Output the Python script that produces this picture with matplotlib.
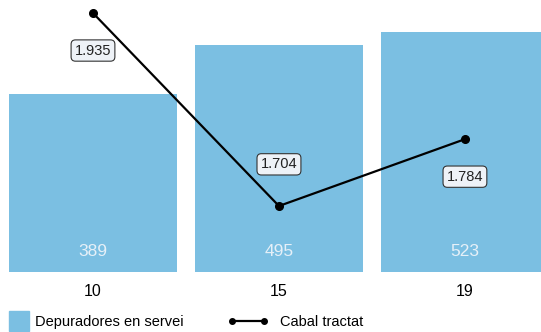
import matplotlib.pyplot as plt
from matplotlib.lines import Line2D
from matplotlib.legend_handler import HandlerLine2D
import numpy as np

plt.rcParams['font.family'] = ['Liberation Sans', 'DejaVu Sans']

years = ['10', '15', '19']
depuradores = [389, 495, 523]
cabal = [1.935, 1.704, 1.784]
cabal_labels = ['1.935', '1.704', '1.784']

bar_color = '#7bbfe2'

fig = plt.figure(figsize=(5.41, 3.32), dpi=100)
ax = fig.add_axes([0, 1 - 272 / 332, 1, 272 / 332])

x = np.arange(len(years))
ax.bar(x, depuradores, width=0.903, color=bar_color)
ax.set_xlim(-0.5, 2.409)
ax.set_ylim(0, 593)
for xi, v in zip(x, depuradores):
    ax.annotate(str(v), (xi, 0), xytext=(0, 15), textcoords='offset points',
                ha='center', va='center', fontsize=12.5, color='#e6f0f8')

ax.set_xticks(x)
ax.set_xticklabels(years, fontsize=11.5)
ax.tick_params(axis='x', length=0, pad=9)
ax.set_yticks([])
for s in ax.spines.values():
    s.set_visible(False)

ax2 = ax.twinx()
ax2.plot(x, cabal, color='black', lw=1.6, marker='o', markersize=5.5)
ax2.set_ylim(1.625, 1.9506)
ax2.set_yticks([])
for s in ax2.spines.values():
    s.set_visible(False)

offsets = [-27, 30, -27]
for xi, v, lab, off in zip(x, cabal, cabal_labels, offsets):
    ax2.annotate(lab, (xi, v), xytext=(0, off), textcoords='offset points',
                 ha='center', va='center', fontsize=10.5, color='#222222',
                 bbox=dict(boxstyle='round,pad=0.25,rounding_size=0.3',
                           fc='#eef2f7', ec='#333333', lw=0.8))

# legend, built as two pieces so the square and the line sit where they should
sq = Line2D([], [], ls='none', marker='s', markersize=15, color=bar_color,
            label='Depuradores en servei')
ln = Line2D([], [], color='black', lw=1.6, marker='o', markersize=4,
            label='Cabal tractat')
ly = 1 - 322 / 332
fig.legend(handles=[sq], loc='center left', bbox_to_anchor=(9 / 541, ly),
           frameon=False, fontsize=10.5, handlelength=1.4, handletextpad=0.4,
           borderpad=0, borderaxespad=0,
           handler_map={sq: HandlerLine2D(numpoints=1)})
fig.legend(handles=[ln], loc='center left', bbox_to_anchor=(228 / 541, ly),
           frameon=False, fontsize=10.5, handlelength=2.75, handletextpad=0.8,
           borderpad=0, borderaxespad=0,
           handler_map={ln: HandlerLine2D(numpoints=2)})

fig.savefig('out.png', dpi=100)
